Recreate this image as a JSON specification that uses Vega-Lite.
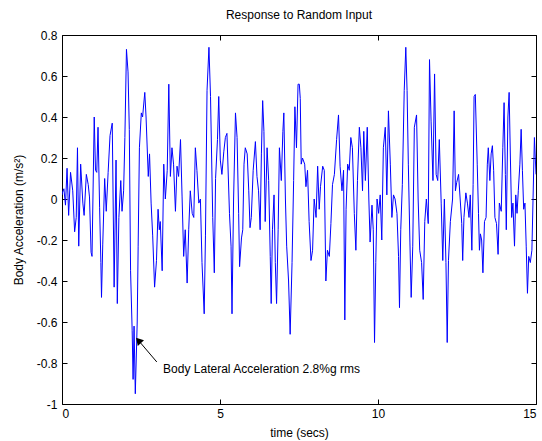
{
  "$schema": "https://vega.github.io/schema/vega-lite/v6.json",
  "autosize": {"type": "none"},
  "width": 474,
  "height": 369,
  "padding": {"left": 62, "top": 35, "right": 6, "bottom": 37},
  "background": "white",
  "config": {
    "view": {"stroke": "black", "strokeWidth": 1},
    "font": "Liberation Sans",
    "axis": {"grid": false, "domain": false, "labelColor": "black", "titleColor": "black", "labelFont": "Liberation Sans", "titleFont": "Liberation Sans", "labelFontSize": 12, "titleFontSize": 12, "titleFontWeight": "normal"}
  },
  "title": {"text": "Response to Random Input", "fontSize": 12, "fontWeight": "normal", "font": "Liberation Sans", "color": "black", "offset": 7},
  "datasets": {
    "sig": [
      {"t":0.0,"v":0.02},{"t":0.01,"v":0.03},{"t":0.06,"v":0.05},{"t":0.11,"v":-0.03},{"t":0.16,"v":0.15},{"t":0.21,"v":-0.08},{"t":0.27,"v":0.13},{"t":0.34,"v":0.04},{"t":0.40,"v":-0.16},{"t":0.45,"v":-0.09},{"t":0.49,"v":0.25},{"t":0.53,"v":-0.23},{"t":0.59,"v":0.17},{"t":0.66,"v":-0.02},{"t":0.70,"v":-0.08},{"t":0.77,"v":0.12},{"t":0.83,"v":0.07},{"t":0.87,"v":0.01},{"t":0.92,"v":-0.26},{"t":0.95,"v":-0.28},{"t":1.02,"v":0.40},{"t":1.06,"v":0.14},{"t":1.10,"v":0.13},{"t":1.14,"v":0.35},{"t":1.19,"v":-0.04},{"t":1.23,"v":-0.31},{"t":1.25,"v":-0.48},{"t":1.29,"v":-0.22},{"t":1.35,"v":0.10},{"t":1.40,"v":-0.06},{"t":1.46,"v":0.13},{"t":1.52,"v":0.31},{"t":1.59,"v":0.37},{"t":1.65,"v":-0.43},{"t":1.71,"v":0.19},{"t":1.75,"v":-0.51},{"t":1.80,"v":-0.09},{"t":1.86,"v":0.09},{"t":1.90,"v":-0.06},{"t":1.95,"v":0.04},{"t":1.99,"v":0.30},{"t":2.04,"v":0.73},{"t":2.09,"v":0.62},{"t":2.13,"v":0.34},{"t":2.17,"v":-0.35},{"t":2.22,"v":-0.64},{"t":2.25,"v":-0.88},{"t":2.28,"v":-0.62},{"t":2.32,"v":-0.95},{"t":2.38,"v":-0.60},{"t":2.41,"v":-0.23},{"t":2.45,"v":0.25},{"t":2.51,"v":0.42},{"t":2.55,"v":0.40},{"t":2.62,"v":0.52},{"t":2.66,"v":0.40},{"t":2.73,"v":0.11},{"t":2.77,"v":0.22},{"t":2.82,"v":-0.02},{"t":2.87,"v":-0.18},{"t":2.93,"v":-0.43},{"t":2.99,"v":-0.30},{"t":3.04,"v":-0.05},{"t":3.08,"v":-0.15},{"t":3.11,"v":-0.11},{"t":3.17,"v":-0.35},{"t":3.22,"v":0.17},{"t":3.27,"v":0.0},{"t":3.33,"v":0.14},{"t":3.38,"v":0.56},{"t":3.43,"v":0.11},{"t":3.48,"v":0.25},{"t":3.53,"v":0.17},{"t":3.59,"v":-0.06},{"t":3.64,"v":0.16},{"t":3.69,"v":0.11},{"t":3.75,"v":0.29},{"t":3.80,"v":0.01},{"t":3.85,"v":-0.28},{"t":3.90,"v":-0.15},{"t":3.96,"v":-0.41},{"t":4.01,"v":-0.15},{"t":4.06,"v":0.04},{"t":4.12,"v":-0.07},{"t":4.17,"v":-0.09},{"t":4.22,"v":0.25},{"t":4.27,"v":0.14},{"t":4.33,"v":-0.02},{"t":4.38,"v":0.0},{"t":4.43,"v":-0.31},{"t":4.50,"v":-0.56},{"t":4.54,"v":-0.18},{"t":4.59,"v":0.53},{"t":4.65,"v":0.74},{"t":4.70,"v":0.50},{"t":4.77,"v":-0.09},{"t":4.82,"v":-0.36},{"t":4.86,"v":0.10},{"t":4.92,"v":0.29},{"t":4.96,"v":0.50},{"t":5.01,"v":0.19},{"t":5.06,"v":0.12},{"t":5.12,"v":0.23},{"t":5.17,"v":0.30},{"t":5.22,"v":0.32},{"t":5.30,"v":-0.07},{"t":5.35,"v":-0.23},{"t":5.38,"v":-0.56},{"t":5.43,"v":0.0},{"t":5.49,"v":0.42},{"t":5.54,"v":0.30},{"t":5.59,"v":-0.07},{"t":5.62,"v":-0.33},{"t":5.68,"v":-0.19},{"t":5.72,"v":-0.15},{"t":5.76,"v":0.17},{"t":5.80,"v":0.25},{"t":5.86,"v":0.22},{"t":5.91,"v":0.04},{"t":5.95,"v":-0.14},{"t":5.99,"v":-0.09},{"t":6.05,"v":0.14},{"t":6.12,"v":0.28},{"t":6.17,"v":0.11},{"t":6.22,"v":0.04},{"t":6.27,"v":-0.15},{"t":6.31,"v":0.22},{"t":6.35,"v":0.48},{"t":6.39,"v":0.33},{"t":6.43,"v":-0.11},{"t":6.49,"v":0.25},{"t":6.54,"v":0.09},{"t":6.59,"v":-0.28},{"t":6.62,"v":-0.51},{"t":6.66,"v":-0.15},{"t":6.71,"v":0.02},{"t":6.75,"v":-0.31},{"t":6.79,"v":-0.51},{"t":6.84,"v":-0.15},{"t":6.88,"v":0.25},{"t":6.94,"v":0.09},{"t":6.99,"v":0.33},{"t":7.02,"v":0.42},{"t":7.07,"v":0.0},{"t":7.11,"v":-0.23},{"t":7.17,"v":-0.40},{"t":7.22,"v":-0.66},{"t":7.28,"v":-0.31},{"t":7.33,"v":0.09},{"t":7.37,"v":0.45},{"t":7.42,"v":0.25},{"t":7.47,"v":0.56},{"t":7.51,"v":0.56},{"t":7.54,"v":0.49},{"t":7.57,"v":0.17},{"t":7.61,"v":0.20},{"t":7.68,"v":0.17},{"t":7.72,"v":0.06},{"t":7.77,"v":0.14},{"t":7.82,"v":-0.11},{"t":7.88,"v":-0.30},{"t":7.93,"v":-0.25},{"t":7.98,"v":0.0},{"t":8.04,"v":-0.09},{"t":8.09,"v":0.16},{"t":8.14,"v":-0.05},{"t":8.18,"v":0.06},{"t":8.25,"v":0.16},{"t":8.30,"v":0.14},{"t":8.35,"v":-0.40},{"t":8.40,"v":-0.25},{"t":8.46,"v":-0.28},{"t":8.51,"v":-0.12},{"t":8.56,"v":0.07},{"t":8.62,"v":0.12},{"t":8.69,"v":0.29},{"t":8.75,"v":0.41},{"t":8.80,"v":0.16},{"t":8.86,"v":0.04},{"t":8.91,"v":0.14},{"t":8.95,"v":-0.59},{"t":8.99,"v":-0.05},{"t":9.04,"v":0.17},{"t":9.09,"v":0.14},{"t":9.14,"v":0.30},{"t":9.19,"v":0.25},{"t":9.25,"v":-0.07},{"t":9.30,"v":-0.25},{"t":9.35,"v":0.09},{"t":9.41,"v":0.35},{"t":9.46,"v":0.25},{"t":9.51,"v":0.04},{"t":9.55,"v":0.33},{"t":9.60,"v":0.09},{"t":9.66,"v":0.35},{"t":9.71,"v":0.0},{"t":9.75,"v":-0.21},{"t":9.81,"v":-0.03},{"t":9.85,"v":-0.15},{"t":9.89,"v":-0.70},{"t":9.93,"v":-0.31},{"t":9.97,"v":0.0},{"t":10.02,"v":-0.07},{"t":10.07,"v":0.02},{"t":10.12,"v":-0.20},{"t":10.17,"v":0.25},{"t":10.23,"v":0.35},{"t":10.28,"v":0.02},{"t":10.33,"v":0.43},{"t":10.39,"v":0.17},{"t":10.44,"v":-0.09},{"t":10.49,"v":0.02},{"t":10.54,"v":0.0},{"t":10.60,"v":-0.07},{"t":10.65,"v":-0.28},{"t":10.68,"v":-0.53},{"t":10.72,"v":-0.15},{"t":10.77,"v":0.07},{"t":10.83,"v":0.53},{"t":10.88,"v":0.74},{"t":10.92,"v":0.53},{"t":10.96,"v":0.17},{"t":11.01,"v":-0.21},{"t":11.05,"v":-0.48},{"t":11.10,"v":-0.23},{"t":11.15,"v":0.35},{"t":11.22,"v":0.41},{"t":11.27,"v":0.0},{"t":11.32,"v":-0.25},{"t":11.38,"v":-0.31},{"t":11.43,"v":-0.49},{"t":11.48,"v":-0.11},{"t":11.53,"v":0.0},{"t":11.59,"v":-0.12},{"t":11.63,"v":0.68},{"t":11.68,"v":0.38},{"t":11.74,"v":0.09},{"t":11.79,"v":0.61},{"t":11.84,"v":0.12},{"t":11.89,"v":0.09},{"t":11.94,"v":0.29},{"t":12.00,"v":-0.02},{"t":12.05,"v":-0.30},{"t":12.10,"v":0.0},{"t":12.15,"v":-0.31},{"t":12.19,"v":-0.70},{"t":12.23,"v":-0.30},{"t":12.29,"v":-0.11},{"t":12.36,"v":0.0},{"t":12.41,"v":0.43},{"t":12.45,"v":0.04},{"t":12.49,"v":0.08},{"t":12.55,"v":0.12},{"t":12.60,"v":0.0},{"t":12.65,"v":-0.12},{"t":12.68,"v":-0.30},{"t":12.72,"v":-0.09},{"t":12.78,"v":0.03},{"t":12.83,"v":-0.02},{"t":12.88,"v":-0.09},{"t":12.92,"v":0.02},{"t":12.97,"v":-0.25},{"t":13.01,"v":0.07},{"t":13.04,"v":0.50},{"t":13.08,"v":0.51},{"t":13.14,"v":0.17},{"t":13.18,"v":-0.07},{"t":13.21,"v":-0.25},{"t":13.24,"v":-0.17},{"t":13.28,"v":-0.20},{"t":13.32,"v":-0.36},{"t":13.37,"v":-0.11},{"t":13.42,"v":-0.09},{"t":13.46,"v":0.17},{"t":13.49,"v":0.25},{"t":13.54,"v":0.09},{"t":13.58,"v":0.22},{"t":13.62,"v":0.26},{"t":13.66,"v":0.14},{"t":13.70,"v":-0.09},{"t":13.75,"v":-0.12},{"t":13.80,"v":-0.27},{"t":13.84,"v":-0.02},{"t":13.90,"v":-0.06},{"t":13.95,"v":0.25},{"t":13.99,"v":0.47},{"t":14.03,"v":0.12},{"t":14.06,"v":-0.15},{"t":14.11,"v":0.40},{"t":14.15,"v":0.52},{"t":14.19,"v":0.20},{"t":14.23,"v":-0.09},{"t":14.27,"v":-0.02},{"t":14.32,"v":-0.23},{"t":14.36,"v":0.02},{"t":14.40,"v":-0.07},{"t":14.44,"v":0.04},{"t":14.49,"v":0.17},{"t":14.53,"v":0.34},{"t":14.57,"v":0.14},{"t":14.61,"v":-0.05},{"t":14.65,"v":-0.02},{"t":14.69,"v":-0.23},{"t":14.73,"v":-0.46},{"t":14.77,"v":-0.28},{"t":14.82,"v":-0.31},{"t":14.87,"v":-0.25},{"t":14.95,"v":0.30},{"t":15.0,"v":0.12}
    ],
    "ann": [
      {"t": 3.0, "v": -0.795, "t2": 2.42, "v2": -0.69, "tx": 3.2, "vy": -0.83, "label": "Body Lateral Acceleration 2.8%g rms"}
    ]
  },
  "layer": [
    {
      "data": {"name": "sig"},
      "mark": {"type": "line", "color": "#0000ff", "strokeWidth": 1, "clip": true},
      "encoding": {
        "x": {"field": "t", "type": "quantitative", "scale": {"domain": [0, 15], "nice": false, "zero": false},
          "axis": {"orient": "bottom", "values": [0, 5, 10, 15], "ticks": true, "tickSize": 5, "tickColor": "black", "tickWidth": 1, "offset": -5, "title": "time (secs)", "labelPadding": 4, "titlePadding": 8, "labelExpr": "toString(datum.value)"}},
        "y": {"field": "v", "type": "quantitative", "scale": {"domain": [-1, 0.8], "nice": false, "zero": false},
          "axis": {"orient": "left", "values": [-1, -0.8, -0.6, -0.4, -0.2, 0, 0.2, 0.4, 0.6, 0.8], "ticks": true, "tickSize": 5, "tickColor": "black", "tickWidth": 1, "offset": -5, "title": "Body Acceleration (m/s²)", "labelPadding": 5, "titlePadding": 11, "labelExpr": "toString(round(datum.value*10)/10)"}}
      }
    },
    {
      "data": {"name": "ann"},
      "mark": {"type": "rule", "color": "black", "strokeWidth": 1},
      "encoding": {
        "x": {"field": "t", "type": "quantitative", "axis": {"orient": "top", "values": [0, 5, 10, 15], "ticks": true, "tickSize": 5, "tickColor": "black", "tickWidth": 1, "offset": -5, "labels": false, "title": null}},
        "y": {"field": "v", "type": "quantitative", "axis": {"orient": "right", "values": [-1, -0.8, -0.6, -0.4, -0.2, 0, 0.2, 0.4, 0.6, 0.8], "ticks": true, "tickSize": 5, "tickColor": "black", "tickWidth": 1, "offset": -5, "labels": false, "title": null}},
        "x2": {"field": "t2"},
        "y2": {"field": "v2"}
      }
    },
    {
      "data": {"name": "ann"},
      "mark": {"type": "point", "shape": "triangle-up", "filled": true, "color": "black", "opacity": 1, "size": 70, "angle": 318},
      "encoding": {
        "x": {"field": "t2", "type": "quantitative", "axis": null},
        "y": {"field": "v2", "type": "quantitative", "axis": null}
      }
    },
    {
      "data": {"name": "ann"},
      "mark": {"type": "text", "align": "left", "baseline": "middle", "fontSize": 12, "font": "Liberation Sans", "color": "black"},
      "encoding": {
        "x": {"field": "tx", "type": "quantitative", "axis": null},
        "y": {"field": "vy", "type": "quantitative", "axis": null},
        "text": {"field": "label"}
      }
    }
  ],
  "resolve": {"axis": {"x": "independent", "y": "independent"}}
}
